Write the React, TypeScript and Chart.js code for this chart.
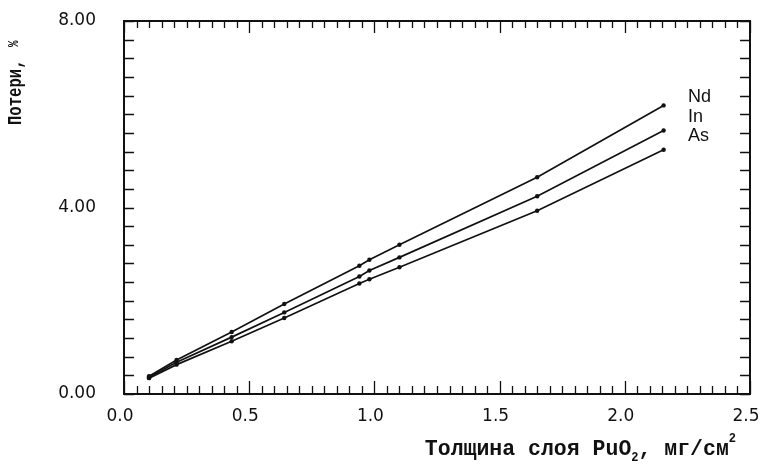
import { useEffect, useRef } from "react";
import { Chart, registerables } from "chart.js";

Chart.register(...registerables);

// Layer thickness PuO2, mg/cm^2
const thickness = [0.1, 0.21, 0.43, 0.64, 0.94, 0.98, 1.1, 1.65, 2.155];
// Losses, %
const lossNd = [0.38, 0.73, 1.33, 1.93, 2.75, 2.88, 3.2, 4.65, 6.19];
const lossIn = [0.36, 0.68, 1.22, 1.75, 2.52, 2.65, 2.93, 4.24, 5.65];
const lossAs = [0.34, 0.63, 1.13, 1.63, 2.37, 2.46, 2.72, 3.93, 5.24];
const seriesNames = ["Nd", "In", "As"];

// Where the series names are written (data coordinates)
const nameAnchorX = 2.252;
const nameAnchorY = [6.38, 5.95, 5.54];

const xMin = 0;
const xMax = 2.5;
const xMajorStep = 0.5;
const xMinorCount = 50;
const yMin = 0;
const yMax = 8;
const yMajorStep = 4;
const yMinorCount = 20;

const xTitleMain = "Толщина слоя PuO";
const xTitleSub = "2";
const xTitleRest = ", мг/см";
const xTitleSup = "2";
const yTitleMain = "Потери,";
const yTitleUnit = "%";

const INK = "#111";

const framePlugin = {
  id: "framePlugin",
  afterDraw(chart: any) {
    const { ctx, chartArea: a, scales } = chart;
    const xs = scales.x;
    const ys = scales.y;
    ctx.save();
    ctx.strokeStyle = INK;
    ctx.fillStyle = INK;
    ctx.lineWidth = 2;
    ctx.strokeRect(a.left, a.top, a.right - a.left, a.bottom - a.top);

    ctx.lineWidth = 1.3;
    ctx.beginPath();
    for (let i = 0; i <= xMinorCount; i++) {
      const v = xMin + ((xMax - xMin) * i) / xMinorCount;
      const px = Math.round(xs.getPixelForValue(v)) + 0.5;
      const major = i % 10 === 0;
      ctx.moveTo(px, a.bottom);
      ctx.lineTo(px, a.bottom - (major ? 13 : 8));
      ctx.moveTo(px, a.top);
      ctx.lineTo(px, a.top + (major ? 12 : 7));
    }
    for (let j = 0; j <= yMinorCount; j++) {
      const v = yMin + ((yMax - yMin) * j) / yMinorCount;
      const py = Math.round(ys.getPixelForValue(v)) + 0.5;
      ctx.moveTo(a.left, py);
      ctx.lineTo(a.left + 10, py);
      ctx.moveTo(a.right, py);
      ctx.lineTo(a.right - 10, py);
    }
    ctx.stroke();

    // series names
    ctx.font = "18px 'Liberation Sans'";
    ctx.textAlign = "left";
    ctx.textBaseline = "middle";
    seriesNames.forEach((n, i) => {
      ctx.fillText(n, xs.getPixelForValue(nameAnchorX), ys.getPixelForValue(nameAnchorY[i]));
    });

    // x title
    const mainFont = "bold 21.5px 'Liberation Mono'";
    const smallFont = "bold 12px 'Liberation Mono'";
    ctx.textBaseline = "alphabetic";
    ctx.font = mainFont;
    const w1 = ctx.measureText(xTitleMain).width;
    const w3 = ctx.measureText(xTitleRest).width;
    ctx.font = smallFont;
    const w2 = ctx.measureText(xTitleSub).width;
    const w4 = ctx.measureText(xTitleSup).width;
    const total = w1 + w2 + w3 + w4;
    let tx = a.right - 14 - total;
    const base = a.bottom + 61;
    ctx.font = mainFont;
    ctx.fillText(xTitleMain, tx, base);
    tx += w1;
    ctx.font = smallFont;
    ctx.fillText(xTitleSub, tx, base + 6);
    tx += w2;
    ctx.font = mainFont;
    ctx.fillText(xTitleRest, tx, base);
    tx += w3;
    ctx.font = smallFont;
    ctx.fillText(xTitleSup, tx, base - 13);

    // y title
    ctx.translate(21, a.top + 104);
    ctx.rotate(-Math.PI / 2);
    ctx.scale(0.78, 1);
    ctx.font = "bold 20px 'Liberation Mono'";
    ctx.fillText(yTitleMain, 0, 0);
    ctx.font = "bold 14px 'Liberation Mono'";
    ctx.fillText(yTitleUnit, 100, -3);
    ctx.restore();
  },
};

export default function App() {
  const ref = useRef<HTMLCanvasElement | null>(null);
  useEffect(() => {
    if (!ref.current) return;
    const mk = (label: string, data: number[]) => ({
      label,
      data: thickness.map((x, i) => ({ x, y: data[i] })),
      borderColor: INK,
      backgroundColor: INK,
      borderWidth: 1.7,
      pointRadius: 2.2,
      pointBorderWidth: 0,
      pointBackgroundColor: INK,
      tension: 0,
    });
    const chart = new Chart(ref.current, {
      type: "line",
      data: {
        datasets: [mk(seriesNames[0], lossNd), mk(seriesNames[1], lossIn), mk(seriesNames[2], lossAs)],
      },
      options: {
        animation: false,
        responsive: true,
        maintainAspectRatio: false,
        layout: { padding: { top: 21, right: 11, left: 0, bottom: 0 } },
        plugins: { legend: { display: false }, tooltip: { enabled: false } },
        scales: {
          x: {
            type: "linear",
            min: xMin,
            max: xMax,
            grid: { display: false, drawTicks: false },
            border: { display: false },
            ticks: {
              stepSize: xMajorStep,
              padding: 12,
              labelOffset: -4,
              color: INK,
              font: { family: "'DejaVu Sans'", size: 17 },
              callback: (v: any) => Number(v).toFixed(1),
            },
            afterFit: (s: any) => {
              s.height = 71;
              s.paddingLeft = 0;
              s.paddingRight = 0;
            },
          },
          y: {
            type: "linear",
            min: yMin,
            max: yMax,
            grid: { display: false, drawTicks: false },
            border: { display: false },
            ticks: {
              stepSize: yMajorStep,
              padding: 28,
              color: INK,
              font: { family: "'DejaVu Sans'", size: 17 },
              callback: (v: any) => Number(v).toFixed(2),
            },
            afterFit: (s: any) => {
              s.width = 124;
              s.paddingTop = 0;
              s.paddingBottom = 0;
            },
          },
        },
      },
      plugins: [framePlugin],
    });
    return () => chart.destroy();
  }, []);
  return (
    <div style={{ position: "fixed", left: 0, top: 0, width: 761, height: 465, background: "#fff" }}>
      <canvas ref={ref} />
    </div>
  );
}
